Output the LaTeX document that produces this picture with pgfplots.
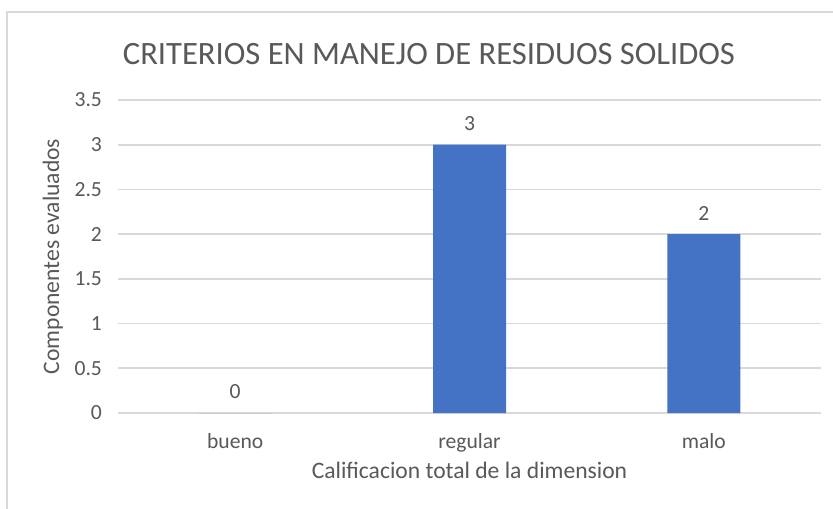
\documentclass[border=0pt]{standalone}
\usepackage{pgfplots}
\pgfplotsset{compat=1.18}
\usepackage{fontspec}
\setmainfont{Carlito}
\definecolor{txt}{HTML}{595959}
\definecolor{grd}{HTML}{D9D9D9}
\definecolor{bar}{HTML}{4472C4}
\begin{document}
\begin{tikzpicture}
\useasboundingbox[fill=white] (0pt,0pt) rectangle (416.5pt,254pt);
\draw[grd, line width=1.2pt] (3.5pt,-5pt) rectangle (420pt,248pt);
\node[txt, font=\fontsize{16.3}{19}\selectfont] at (214.5pt,227pt) {CRITERIOS EN MANEJO DE RESIDUOS SOLIDOS};
\begin{axis}[
  at={(59pt,47.5pt)}, anchor=south west,
  scale only axis, width=351.5pt, height=156.5pt,
  xmin=-0.5, xmax=2.5, ymin=0, ymax=3.5,
  ytick={0,0.5,1,1.5,2,2.5,3,3.5},
  yticklabels={0,0.5,1,1.5,2,2.5,3,3.5},
  xtick={0,1,2}, xticklabels={bueno,regular,malo},
  axis line style={draw=none}, tick style={draw=none},
  ymajorgrids, grid style={grd, line width=0.8pt},
  ticklabel style={txt, font=\fontsize{10.8}{12}\selectfont},
  yticklabel style={xshift=-4.5pt},
  xticklabel style={yshift=-2.5pt},
  /pgf/number format/assume math mode=true,
  xlabel={Calificacion total de la dimension},
  ylabel={Componentes evaluados},
  label style={txt, font=\fontsize{11.8}{13}\selectfont},
  xlabel style={yshift=2pt},
  ylabel style={yshift=-1pt},
  ybar, bar width=36.5pt,
  nodes near coords,
  nodes near coords style={txt, font=\fontsize{10.8}{12}\selectfont, yshift=3.5pt},
  clip=false,
]
\addplot[fill=bar, draw=none] coordinates {(0,0) (1,3) (2,2)};
\end{axis}
\end{tikzpicture}
\end{document}
